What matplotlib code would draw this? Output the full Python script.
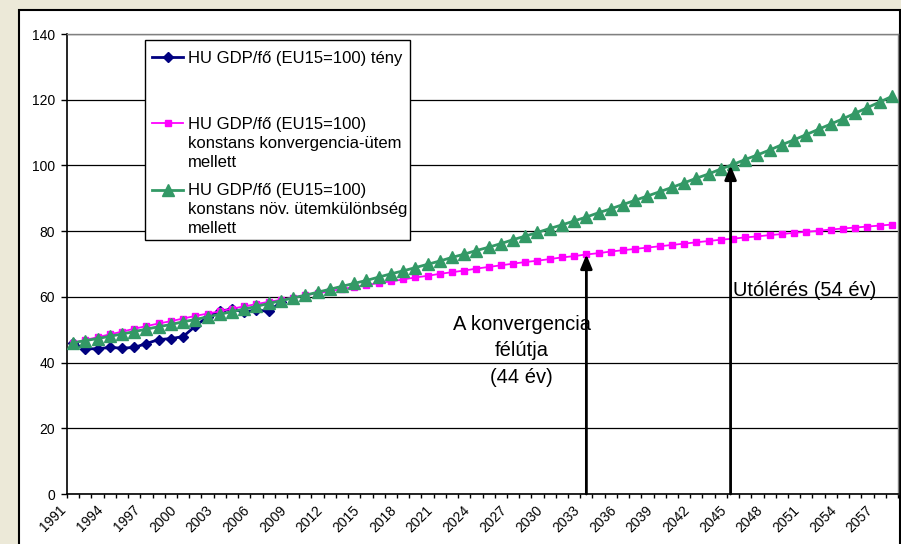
import numpy as np
import matplotlib
matplotlib.use("Agg")
import matplotlib.pyplot as plt
import matplotlib.transforms as mtransforms
from matplotlib.patches import Rectangle
from matplotlib.lines import Line2D

plt.rcParams['font.family'] = ['Liberation Sans', 'DejaVu Sans']

# data
years = list(range(1991, 2059))
teny = [45.9, 44.2, 44.2, 44.6, 44.4, 44.6, 45.8, 47.0, 47.3, 47.9,
        51.1, 53.9, 55.7, 56.2, 55.4, 56.0, 55.6, 58.4]
konv_utem = [46.0, 46.9, 47.7, 48.6, 49.4, 50.3, 51.1, 51.9, 52.6, 53.4,
             54.2, 54.9, 55.6, 56.4, 57.1, 57.8, 58.5, 59.1, 59.8, 60.5,
             61.1, 61.7, 62.4, 63.0, 63.6, 64.2, 64.7, 65.3, 65.9, 66.4,
             67.0, 67.5, 68.0, 68.6, 69.1, 69.6, 70.1, 70.6, 71.0, 71.5,
             72.0, 72.4, 72.9, 73.3, 73.8, 74.2, 74.6, 75.0, 75.4, 75.8,
             76.2, 76.6, 77.0, 77.4, 77.7, 78.1, 78.4, 78.8, 79.1, 79.5,
             79.8, 80.1, 80.5, 80.8, 81.1, 81.4, 81.7, 82.0]
nov_kul = [46.0, 46.7, 47.3, 48.0, 48.7, 49.4, 50.2, 50.9, 51.6, 52.4,
           53.1, 53.9, 54.7, 55.5, 56.3, 57.1, 58.0, 58.8, 59.7, 60.5,
           61.4, 62.3, 63.2, 64.1, 65.0, 66.0, 67.0, 67.9, 68.9, 69.9,
           70.9, 72.0, 73.0, 74.1, 75.1, 76.2, 77.4, 78.5, 79.6, 80.8,
           81.9, 83.1, 84.3, 85.6, 86.8, 88.1, 89.4, 90.7, 92.0, 93.3,
           94.7, 96.1, 97.4, 98.9, 100.3, 101.8, 103.2, 104.7, 106.3, 107.8,
           109.4, 111.0, 112.6, 114.2, 115.9, 117.6, 119.3, 121.0]
tick_years = years[::3]
leg_labels = ['HU GDP/fő (EU15=100) tény',
              'HU GDP/fő (EU15=100)\nkonstans konvergencia-ütem\nmellett',
              'HU GDP/fő (EU15=100)\nkonstans növ. ütemkülönbség\nmellett']
arrow_years = [2033, 2044.8]
arrow_values = [72.9, 100.0]

styles = [dict(color='#000080', marker='D', ms=5.5, lw=2),
          dict(color='#FF00FF', marker='s', ms=5, lw=1.3),
          dict(color='#339966', marker='^', ms=8, lw=2)]

W, H = 901, 544
fig = plt.figure(figsize=(W / 100, H / 100), dpi=100, facecolor='#ECE9D8')


def fx(px):
    return px / W


def fy(py):
    return 1 - py / H


# white chart area with black frame
fig.add_artist(Rectangle((fx(19), fy(570)), fx(900) - fx(19), fy(10) - fy(570),
                         transform=fig.transFigure, facecolor='white',
                         edgecolor='black', lw=1.5, zorder=-1))

ax = fig.add_axes([fx(67), fy(494), fx(898) - fx(67), fy(34) - fy(494)])
idx = np.arange(len(years))
series = [teny, konv_utem, nov_kul]
for vals, st in zip(series, styles):
    ax.plot(idx[:len(vals)], vals, color=st['color'], lw=st['lw'],
            marker=st['marker'], ms=st['ms'], mec=st['color'], zorder=3)

ax.set_xlim(-0.5, len(years) - 0.5)
ax.set_ylim(0, 140)
ax.set_yticks(range(0, 141, 20))
ax.yaxis.grid(True, color='black', lw=0.9)
ax.set_axisbelow(True)

for side in ['left', 'bottom']:
    ax.spines[side].set_color('black')
    ax.spines[side].set_linewidth(1.2)
for side in ['top', 'right']:
    ax.spines[side].set_color('#808080')
    ax.spines[side].set_linewidth(1)

ax.set_xticks([years.index(y) for y in tick_years])
ax.set_xticklabels([str(y) for y in tick_years])
ax.set_xticks(np.arange(-0.5, len(years), 1), minor=True)
ax.tick_params(axis='x', which='major', length=0, pad=10)
ax.tick_params(axis='x', which='minor', length=3, width=1, direction='out')
ax.tick_params(axis='y', length=4, width=1, direction='out', pad=4.5, labelsize=10)
shift = mtransforms.ScaledTranslation(-0.09, 0, fig.dpi_scale_trans)
for lab in ax.get_xticklabels():
    lab.set_rotation(45)
    lab.set_ha('right')
    lab.set_va('center')
    lab.set_rotation_mode('anchor')
    lab.set_fontsize(10)
    lab.set_transform(lab.get_transform() + shift)

# arrows and notes
for yr, v in zip(arrow_years, arrow_values):
    x = yr - years[0]
    ax.annotate('', xy=(x, v), xytext=(x, 0),
                arrowprops=dict(arrowstyle='-|>,head_length=0.6,head_width=0.25',
                                color='black', lw=2, shrinkA=0, shrinkB=0,
                                mutation_scale=14), zorder=4)
ax.text(36.7, 54.4, 'A konvergencia\nfélútja\n(44 év)', ha='center', va='top',
        multialignment='center', fontsize=14.5, linespacing=1.48, zorder=2)
ax.text(53.98, 60.3, 'Utólérés (54 év)', ha='left', va='baseline',
        fontsize=14.5, zorder=2)

# legend box
fig.add_artist(Rectangle((fx(145), fy(240)), fx(410) - fx(145), fy(40) - fy(240),
                         transform=fig.transFigure, facecolor='white',
                         edgecolor='black', lw=1, zorder=5))
handle_y = [57, 123, 190]
text_top = [50.6, 117.3, 183]
for st, lab, hy, ty in zip(styles, leg_labels, handle_y, text_top):
    fig.add_artist(Line2D([fx(152), fx(183)], [fy(hy), fy(hy)], color=st['color'],
                          lw=st['lw'], transform=fig.transFigure, zorder=6))
    fig.add_artist(Line2D([fx(168)], [fy(hy)], color=st['color'], marker=st['marker'],
                          ms=st['ms'], mec=st['color'], transform=fig.transFigure, zorder=6))
    fig.text(fx(188), fy(ty), lab, ha='left', va='top', fontsize=12,
             linespacing=1.33, zorder=6)

fig.savefig('out.png', dpi=100, facecolor=fig.get_facecolor())
